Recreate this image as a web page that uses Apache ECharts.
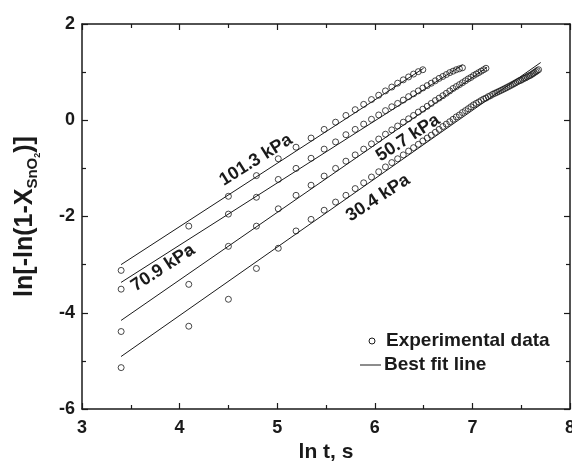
<!DOCTYPE html>
<html>
<head>
    <meta charset="utf-8"/>
    <title>ln t plot</title>
</head>
<body style="margin:0;background:#fff">
<script type="text/javascript" src="https://cdn.jsdelivr.net/npm/echarts@6.0.0/dist/echarts.min.js"></script>

<div id="main" style="width: 572px;height:464px;"></div>

<script type="text/javascript">
    // ln t values of the measurements (shared by all runs)
    var lnT = [3.401, 4.094, 4.500, 4.787, 5.011, 5.193, 5.347, 5.481, 5.598, 5.704,
        5.799, 5.886, 5.966, 6.040, 6.109, 6.174, 6.234, 6.292, 6.346, 6.397,
        6.446, 6.492, 6.537, 6.579, 6.620, 6.659, 6.697, 6.733, 6.768, 6.802,
        6.835, 6.867, 6.898, 6.928, 6.957, 6.985, 7.012, 7.039, 7.065, 7.090,
        7.115, 7.139, 7.162, 7.185, 7.208, 7.230, 7.251, 7.272, 7.293, 7.313,
        7.333, 7.352, 7.371, 7.390, 7.409, 7.427, 7.444, 7.462, 7.479, 7.496,
        7.512, 7.528, 7.544, 7.560, 7.576, 7.591, 7.606, 7.621, 7.635, 7.650,
        7.664, 7.678];

    var y1013 = [-3.12, -2.20, -1.58, -1.15, -0.80, -0.56, -0.37, -0.19, -0.04, 0.10,
        0.22, 0.33, 0.43, 0.52, 0.61, 0.69, 0.77, 0.84, 0.90, 0.96, 1.01, 1.05];

    var y709 = [-3.51, -2.72, -1.95, -1.60, -1.23, -1.00, -0.79, -0.60, -0.45, -0.30,
        -0.19, -0.08, 0.02, 0.11, 0.20, 0.28, 0.35, 0.42, 0.49, 0.55,
        0.61, 0.67, 0.72, 0.77, 0.82, 0.87, 0.91, 0.95, 0.99, 1.02,
        1.05, 1.07, 1.09];

    var y507 = [-4.39, -3.41, -2.62, -2.20, -1.84, -1.56, -1.35, -1.16, -1.00, -0.85,
        -0.72, -0.60, -0.49, -0.39, -0.29, -0.20, -0.12, -0.04, 0.03, 0.10,
        0.17, 0.23, 0.29, 0.35, 0.41, 0.46, 0.51, 0.56, 0.61, 0.66,
        0.70, 0.74, 0.78, 0.82, 0.86, 0.89, 0.93, 0.96, 0.99, 1.02,
        1.05, 1.08];

    var y304 = [-5.14, -4.28, -3.72, -3.08, -2.66, -2.30, -2.06, -1.87, -1.70, -1.56,
        -1.42, -1.30, -1.18, -1.07, -0.97, -0.88, -0.80, -0.72, -0.64, -0.57,
        -0.50, -0.43, -0.37, -0.31, -0.25, -0.19, -0.13, -0.08, -0.03, 0.02,
        0.07, 0.11, 0.16, 0.20, 0.24, 0.28, 0.32, 0.35, 0.38, 0.41,
        0.44, 0.46, 0.49, 0.51, 0.54, 0.56, 0.58, 0.60, 0.62, 0.64,
        0.66, 0.68, 0.70, 0.72, 0.74, 0.76, 0.78, 0.80, 0.82, 0.83,
        0.85, 0.87, 0.88, 0.90, 0.92, 0.93, 0.95, 0.97, 0.99, 1.01,
        1.03, 1.05];

    // best fit lines, end points
    var fit1013 = [[3.4, -3.0], [6.5, 1.08]];
    var fit709 = [[3.4, -3.37], [6.9, 1.15]];
    var fit507 = [[3.4, -4.16], [7.15, 1.10]];
    var fit304 = [[3.4, -4.91], [7.7, 1.2]];

    var xTicks = [3, 4, 5, 6, 7, 8];
    var yTicks = [-6, -4, -2, 0, 2];

    var ink = '#1a1a1a';
    var font = 'Liberation Sans, Arial, sans-serif';

    function pts(ys) {
        var out = [];
        for (var i = 0; i < ys.length; i++) {
            out.push([lnT[i], ys[i]]);
        }
        return out;
    }

    function scatter(ys) {
        return {
            name: 'Experimental data',
            type: 'scatter',
            data: pts(ys),
            symbol: 'circle',
            symbolSize: 6,
            itemStyle: {color: 'rgba(255,255,255,0)', borderColor: ink, borderWidth: 1},
            silent: true,
            z: 3
        };
    }

    function fit(d) {
        return {
            name: 'Best fit line',
            type: 'line',
            data: d,
            symbol: 'none',
            lineStyle: {color: ink, width: 1},
            silent: true,
            z: 2
        };
    }

    function xAx(pos) {
        return {
            type: 'value',
            position: pos,
            min: xTicks[0],
            max: xTicks[xTicks.length - 1],
            interval: 1,
            name: pos == 'bottom' ? 'ln t, s' : '',
            nameLocation: 'middle',
            nameGap: 33,
            nameTextStyle: {fontFamily: font, fontWeight: 'bold', fontSize: 21, color: ink},
            axisLine: {show: true, onZero: false, lineStyle: {color: ink, width: 1.5}},
            axisTick: {show: true, inside: true, length: 6, lineStyle: {color: ink, width: 1.2}},
            minorTick: {show: true, splitNumber: 2, length: 4, lineStyle: {color: ink, width: 1.2}},
            axisLabel: {show: pos == 'bottom', fontFamily: font, fontWeight: 'bold', fontSize: 18, color: ink, margin: 10},
            splitLine: {show: false}
        };
    }

    function yAx(pos) {
        return {
            type: 'value',
            position: pos,
            min: yTicks[0],
            max: yTicks[yTicks.length - 1],
            interval: 2,
            name: pos == 'left' ? '{a|ln[-ln(1-X}{b|SnO}{c|2}{a|)]}' : '',
            nameLocation: 'middle',
            nameRotate: 90,
            nameGap: 40,
            nameTextStyle: {
                color: ink,
                rich: {
                    a: {fontFamily: font, fontWeight: 'bold', fontSize: 25, color: ink},
                    b: {fontFamily: font, fontWeight: 'bold', fontSize: 15, color: ink, padding: [14, 0, 0, 0]},
                    c: {fontFamily: font, fontWeight: 'bold', fontSize: 9, color: ink, padding: [24, 0, 0, 0]}
                }
            },
            axisLine: {show: true, onZero: false, lineStyle: {color: ink, width: 1.5}},
            axisTick: {show: true, inside: true, length: 6, lineStyle: {color: ink, width: 1.2}},
            minorTick: {show: true, splitNumber: 2, length: 4, lineStyle: {color: ink, width: 1.2}},
            axisLabel: {show: pos == 'left', fontFamily: font, fontWeight: 'bold', fontSize: 18, color: ink, margin: 7},
            splitLine: {show: false}
        };
    }

    function label(txt, x, y, deg) {
        return {
            type: 'text',
            x: x,
            y: y,
            rotation: deg * Math.PI / 180,
            style: {
                text: txt,
                font: 'bold 18px ' + font,
                fill: ink,
                align: 'center',
                verticalAlign: 'middle'
            },
            z: 10
        };
    }

    var myChart = echarts.init(document.getElementById('main'));

    var option = {
        animation: false,
        backgroundColor: '#fff',
        grid: {left: 82, right: 2, top: 24, bottom: 55, containLabel: false, outerBoundsMode: 'none'},
        xAxis: [xAx('bottom'), xAx('top')],
        yAxis: [yAx('left'), yAx('right')],
        graphic: [
            label('101.3 kPa', 256, 160, 32),
            label('70.9 kPa', 163, 268, 33),
            label('50.7 kPa', 408, 138, 33),
            label('30.4 kPa', 378, 198, 33),
            // legend
            {type: 'circle', shape: {cx: 372, cy: 341, r: 3}, style: {fill: '#fff', stroke: ink, lineWidth: 1}},
            {type: 'text', x: 386, y: 341, style: {text: 'Experimental data', font: 'bold 19px ' + font, fill: ink, verticalAlign: 'middle'}},
            {type: 'line', shape: {x1: 360, y1: 365, x2: 381, y2: 365}, style: {stroke: ink, lineWidth: 1}},
            {type: 'text', x: 384, y: 365, style: {text: 'Best fit line', font: 'bold 19px ' + font, fill: ink, verticalAlign: 'middle'}}
        ],
        series: [
            fit(fit1013), fit(fit709), fit(fit507), fit(fit304),
            scatter(y1013), scatter(y709), scatter(y507), scatter(y304)
        ]
    };

    myChart.setOption(option);
</script>
</body>
</html>
